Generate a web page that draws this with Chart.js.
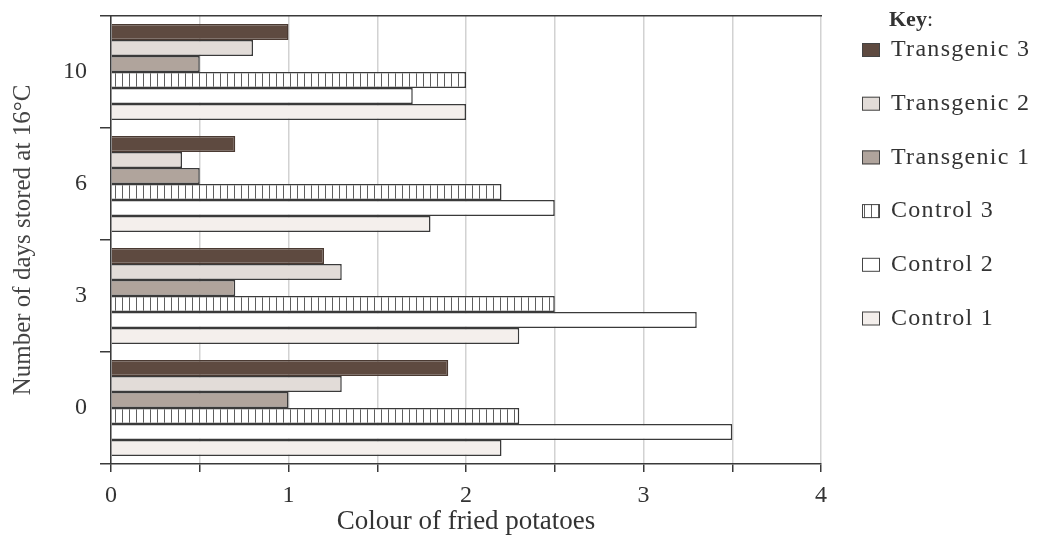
<!DOCTYPE html>
<html>
<head>
<meta charset="utf-8">
<script src="https://cdn.jsdelivr.net/npm/chart.js@4.4.1/dist/chart.umd.min.js"></script>
<style>
  html, body { margin: 0; padding: 0; background: #ffffff; }
  #wrap { position: relative; width: 1038px; height: 541px; }
</style>
</head>
<body>
<div id="wrap"><canvas id="chart"></canvas></div>
<script>
// Storage time categories, listed top to bottom
const days = ['10', '6', '3', '0'];

// Fried-potato colour score for each line, in the same order as `days`
const transgenic3 = [1.0, 0.7, 1.2, 1.9];
const transgenic2 = [0.8, 0.4, 1.3, 1.3];
const transgenic1 = [0.5, 0.5, 0.7, 1.0];
const control3    = [2.0, 2.2, 2.5, 2.3];
const control2    = [1.7, 2.5, 3.3, 3.5];
const control1    = [2.0, 1.8, 2.3, 2.2];

const seriesNames = ['Transgenic 3', 'Transgenic 2', 'Transgenic 1', 'Control 3', 'Control 2', 'Control 1'];
const seriesValues = [transgenic3, transgenic2, transgenic1, control3, control2, control1];

// Colour axis: ticks every half unit, labelled on whole numbers
const colourMin = 0;
const colourMax = 4;
const colourStep = 0.5;

const SERIF = '"Liberation Serif", "Times New Roman", serif';
const INK = '#333333';
const EDGE = '#3a3a3a';

// Vertical hatching used for Control 3
function verticalHatch() {
  const tile = document.createElement('canvas');
  tile.width = 7; tile.height = 8;
  const g = tile.getContext('2d');
  g.fillStyle = '#ffffff';
  g.fillRect(0, 0, 7, 8);
  g.fillStyle = '#5e5e5e';
  g.fillRect(3, 0, 1, 8);
  return g.createPattern(tile, 'repeat');
}

const fills = ['#5e4a40', '#e2dcd8', '#b0a49c', verticalHatch(), '#ffffff', '#f4efec'];
const edges = ['#4a3a32', EDGE, EDGE, EDGE, EDGE, EDGE];

// Key panel on the right-hand side
const keyPanel = {
  id: 'keyPanel',
  afterDraw(chart) {
    const { ctx, chartArea } = chart;
    const boxX = chartArea.right + 41;
    const textX = boxX + 29;
    ctx.save();
    ctx.textBaseline = 'middle';
    ctx.textAlign = 'left';
    ctx.fillStyle = INK;
    ctx.font = 'bold 22px ' + SERIF;
    ctx.fillText('Key', textX - 2, 20);
    const kw = ctx.measureText('Key').width;
    ctx.font = '22px ' + SERIF;
    ctx.fillText(':', textX - 2 + kw, 20);

    chart.data.datasets.forEach((ds, i) => {
      const cy = 50 + 53.7 * i;
      ctx.fillStyle = ds.backgroundColor;
      ctx.fillRect(boxX, cy - 7, 18, 14);
      ctx.strokeStyle = '#444444';
      ctx.lineWidth = 1;
      ctx.strokeRect(boxX + 0.5, cy - 6.5, 17, 13);
      ctx.fillStyle = INK;
      ctx.font = '24px ' + SERIF;
      ctx.letterSpacing = '1.3px';
      ctx.fillText(ds.label, textX, cy);
      ctx.letterSpacing = '0px';
    });
    ctx.restore();
  }
};

Chart.defaults.font.family = SERIF;
Chart.defaults.color = INK;

new Chart(document.getElementById('chart'), {
  type: 'bar',
  data: {
    labels: days,
    datasets: seriesNames.map((name, i) => ({
      label: name,
      data: seriesValues[i],
      backgroundColor: fills[i],
      borderColor: edges[i],
      borderWidth: 1.5,
      barPercentage: 1.0,
      categoryPercentage: 0.857
    }))
  },
  options: {
    indexAxis: 'y',
    responsive: true,
    maintainAspectRatio: false,
    animation: false,
    layout: { padding: { left: 0, top: 16, right: 217, bottom: 0 } },
    plugins: {
      legend: { display: false },
      tooltip: { enabled: false }
    },
    scales: {
      x: {
        type: 'linear',
        position: 'bottom',
        min: colourMin,
        max: colourMax,
        ticks: {
          stepSize: colourStep,
          autoSkip: false,
          maxRotation: 0,
          padding: 12,
          color: INK,
          font: { family: SERIF, size: 24, lineHeight: 1 },
          callback: v => (Number.isInteger(v) ? String(v) : '')
        },
        grid: {
          color: '#d2d2d2',
          lineWidth: 1.5,
          tickColor: EDGE,
          tickLength: 8,
          tickWidth: 1.5
        },
        border: { color: EDGE, width: 1.5 },
        title: {
          display: true,
          text: 'Colour of fried potatoes',
          color: INK,
          font: { family: SERIF, size: 27, lineHeight: 1 },
          padding: { top: -12, bottom: 6 }
        }
      },
      xTop: {
        type: 'linear',
        position: 'top',
        min: colourMin,
        max: colourMax,
        ticks: { display: false },
        grid: { display: false, drawTicks: false },
        border: { display: true, color: EDGE, width: 1.5 }
      },
      y: {
        type: 'category',
        afterFit(scale) {
          // category labels sit mid-band, so no extra room is needed above or below
          scale.paddingTop = 0;
          scale.paddingBottom = 0;
        },
        ticks: {
          padding: 13,
          color: INK,
          font: { family: SERIF, size: 24, lineHeight: 1 }
        },
        grid: {
          drawOnChartArea: false,
          offset: true,
          tickLength: 11,
          color: EDGE,
          lineWidth: 1.5
        },
        border: { color: EDGE, width: 1.5 },
        title: {
          display: true,
          text: 'Number of days stored at 16°C',
          color: '#444444',
          font: { family: SERIF, size: 25, lineHeight: 1 },
          padding: { top: 11, bottom: 14 }
        }
      }
    }
  },
  plugins: [keyPanel]
});
</script>
</body>
</html>
